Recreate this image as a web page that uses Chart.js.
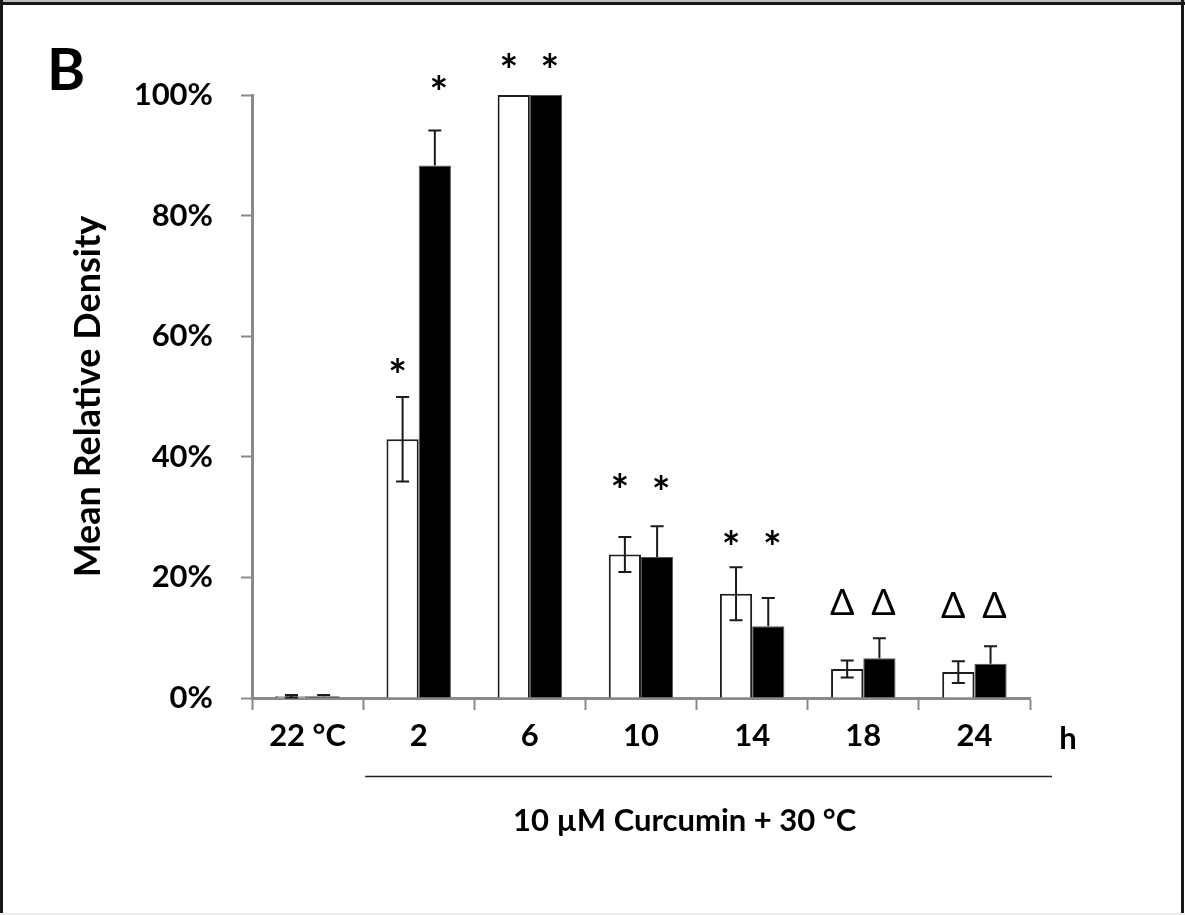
<!DOCTYPE html>
<html>
<head>
<meta charset="utf-8">
<title>Mean Relative Density</title>
<script src="https://cdn.jsdelivr.net/npm/chart.js@4.4.0/dist/chart.umd.min.js"></script>
<style>
    html, body { margin: 0; padding: 0; background: #fff; }
    canvas { display: block; }
</style>
</head>
<body>
<canvas id="densityChart" width="1185" height="915"></canvas>
<script>
// Data (percent of maximum)
const categories = ['22 °C', '2', '6', '10', '14', '18', '24'];
const openValues = [0.3, 42.9, 100, 23.8, 17.3, 4.8, 4.3];
const openErrors = [0.2, 7.0, 0, 2.9, 4.4, 1.4, 1.8];
const filledValues = [0.3, 88.3, 100, 23.4, 11.9, 6.6, 5.7];
const filledErrors = [0.2, 5.8, 0, 5.1, 4.7, 3.3, 2.9];

// Significance markers and the level (%) they are printed at
const openMarks = ['', '*', '*', '*', '*', 'Δ', 'Δ'];
const openMarkLevel = [null, 55.2, 105.8, 36.1, 26.6, 15.9, 15.4];
const filledMarks = ['', '*', '*', '*', '*', 'Δ', 'Δ'];
const filledMarkLevel = [null, 102, 105.8, 35.8, 26.6, 15.9, 15.4];

const yTicks = [0, 20, 40, 60, 80, 100];

const AXIS_GREY = '#8a8a8a';
const FONT = 'Lato, "DejaVu Sans", sans-serif';

// White page with the thin frame round it
const framePlugin = {
    id: 'frame',
    beforeDraw(chart) {
        const ctx = chart.ctx;
        ctx.save();
        ctx.fillStyle = '#fff';
        ctx.fillRect(0, 0, chart.width, chart.height);
        ctx.fillStyle = '#bbb';
        ctx.fillRect(0, 0, chart.width, 2);
        ctx.fillStyle = '#161616';
        ctx.fillRect(0, 2, chart.width, 3);
        ctx.fillRect(0, 0, 3, chart.height);
        ctx.fillRect(1181, 0, 3, chart.height);
        ctx.fillStyle = '#ececec';
        ctx.fillRect(0, 913, chart.width, 2);
        ctx.restore();
    }
};

// Error bars: open bars get both whiskers, filled bars only the upper one
const errorBarPlugin = {
    id: 'errorBars',
    afterDatasetsDraw(chart) {
        const ctx = chart.ctx;
        const yScale = chart.scales.y;
        ctx.save();
        chart.data.datasets.forEach((ds, i) => {
            const meta = chart.getDatasetMeta(i);
            meta.data.forEach((bar, j) => {
                const err = ds.errors[j];
                if (!err) return;
                const v = ds.data[j];
                const top = yScale.getPixelForValue(v + err);
                const bottom = ds.twoSided ? yScale.getPixelForValue(v - err) : bar.y;
                ctx.strokeStyle = '#1a1a1a';
                ctx.lineWidth = 2;
                ctx.beginPath();
                ctx.moveTo(bar.x, top);
                ctx.lineTo(bar.x, bottom);
                ctx.moveTo(bar.x - 6.5, top);
                ctx.lineTo(bar.x + 6.5, top);
                if (ds.twoSided) {
                    ctx.moveTo(bar.x - 6.5, bottom);
                    ctx.lineTo(bar.x + 6.5, bottom);
                }
                ctx.stroke();
            });
        });
        ctx.restore();
    }
};

// Asterisks and deltas above the bars
const markerPlugin = {
    id: 'markers',
    afterDatasetsDraw(chart) {
        const ctx = chart.ctx;
        const yScale = chart.scales.y;
        ctx.save();
        ctx.fillStyle = '#000';
        ctx.textAlign = 'center';
        ctx.textBaseline = 'alphabetic';
        chart.data.datasets.forEach((ds, i) => {
            const meta = chart.getDatasetMeta(i);
            meta.data.forEach((bar, j) => {
                const mark = ds.marks[j];
                if (!mark) return;
                ctx.font = mark === '*' ? 'bold 44px ' + FONT : '36px ' + FONT;
                const m = ctx.measureText(mark);
                const cy = yScale.getPixelForValue(ds.markLevel[j]);
                const base = cy + (m.actualBoundingBoxAscent - m.actualBoundingBoxDescent) / 2;
                ctx.fillText(mark, bar.x + ds.markShift, base);
            });
        });
        ctx.restore();
    }
};

// Panel letter, unit label and the treatment bracket under the axis
const annotationPlugin = {
    id: 'annotations',
    afterDraw(chart) {
        const ctx = chart.ctx;
        const area = chart.chartArea;
        const xScale = chart.scales.x;
        ctx.save();
        ctx.fillStyle = '#000';

        ctx.font = 'bold 58px ' + FONT;
        ctx.textAlign = 'left';
        ctx.textBaseline = 'alphabetic';
        ctx.fillText('B', 47, 90);

        ctx.font = 'bold 31px ' + FONT;
        ctx.textAlign = 'center';
        ctx.fillText('h', area.right + 38, area.bottom + 51);

        const lineStart = xScale.getPixelForValue(0.5) + 2;
        const lineEnd = area.right + 22;
        ctx.strokeStyle = '#222';
        ctx.lineWidth = 1.5;
        ctx.beginPath();
        ctx.moveTo(lineStart, area.bottom + 78.5);
        ctx.lineTo(lineEnd, area.bottom + 78.5);
        ctx.stroke();

        ctx.font = 'bold 31px ' + FONT;
        ctx.fillText('10 µM Curcumin + 30 °C', (lineStart + lineEnd) / 2 - 24, area.bottom + 133);
        ctx.restore();
    }
};

document.addEventListener('DOMContentLoaded', function () {
    const ctx = document.getElementById('densityChart');

    new Chart(ctx, {
        type: 'bar',
        data: {
            labels: categories,
            datasets: [{
                label: 'Open',
                data: openValues,
                errors: openErrors,
                twoSided: true,
                marks: openMarks,
                markLevel: openMarkLevel,
                markShift: -5,
                backgroundColor: '#ffffff',
                borderColor: '#1e1e1e',
                borderWidth: 2,
                categoryPercentage: 0.58,
                barPercentage: 1.0
            }, {
                label: 'Filled',
                data: filledValues,
                errors: filledErrors,
                twoSided: false,
                marks: filledMarks,
                markLevel: filledMarkLevel,
                markShift: 4,
                backgroundColor: '#000000',
                borderColor: '#555555',
                borderWidth: 1,
                categoryPercentage: 0.58,
                barPercentage: 1.0
            }]
        },
        options: {
            responsive: false,
            animation: false,
            layout: {
                padding: { left: 67, right: 155, top: 95, bottom: 157 }
            },
            plugins: {
                legend: { display: false },
                tooltip: { enabled: false }
            },
            scales: {
                x: {
                    offset: true,
                    afterFit: function (scale) { scale.height = 60; },
                    grid: {
                        offset: true,
                        drawOnChartArea: false,
                        drawTicks: true,
                        tickLength: 12,
                        tickWidth: 2,
                        tickColor: AXIS_GREY
                    },
                    border: { color: AXIS_GREY, width: 3 },
                    ticks: {
                        color: '#000',
                        padding: 7,
                        font: { family: FONT, size: 31, weight: 'bold' },
                        maxRotation: 0
                    }
                },
                y: {
                    min: 0,
                    max: 100,
                    afterFit: function (scale) { scale.width = 185; },
                    afterBuildTicks: function (scale) {
                        scale.ticks = yTicks.map(v => ({ value: v }));
                    },
                    grid: {
                        drawOnChartArea: false,
                        drawTicks: true,
                        tickLength: 11,
                        tickWidth: 2,
                        tickColor: AXIS_GREY
                    },
                    border: { color: AXIS_GREY, width: 3 },
                    ticks: {
                        color: '#000',
                        padding: 28,
                        font: { family: FONT, size: 31, weight: 'bold' },
                        callback: v => v + '%'
                    },
                    title: {
                        display: true,
                        text: 'Mean Relative Density',
                        color: '#000',
                        padding: { top: 0, bottom: 0 },
                        font: { family: FONT, size: 36, weight: 'bold' }
                    }
                }
            }
        },
        plugins: [framePlugin, errorBarPlugin, markerPlugin, annotationPlugin]
    });
});
</script>
</body>
</html>
